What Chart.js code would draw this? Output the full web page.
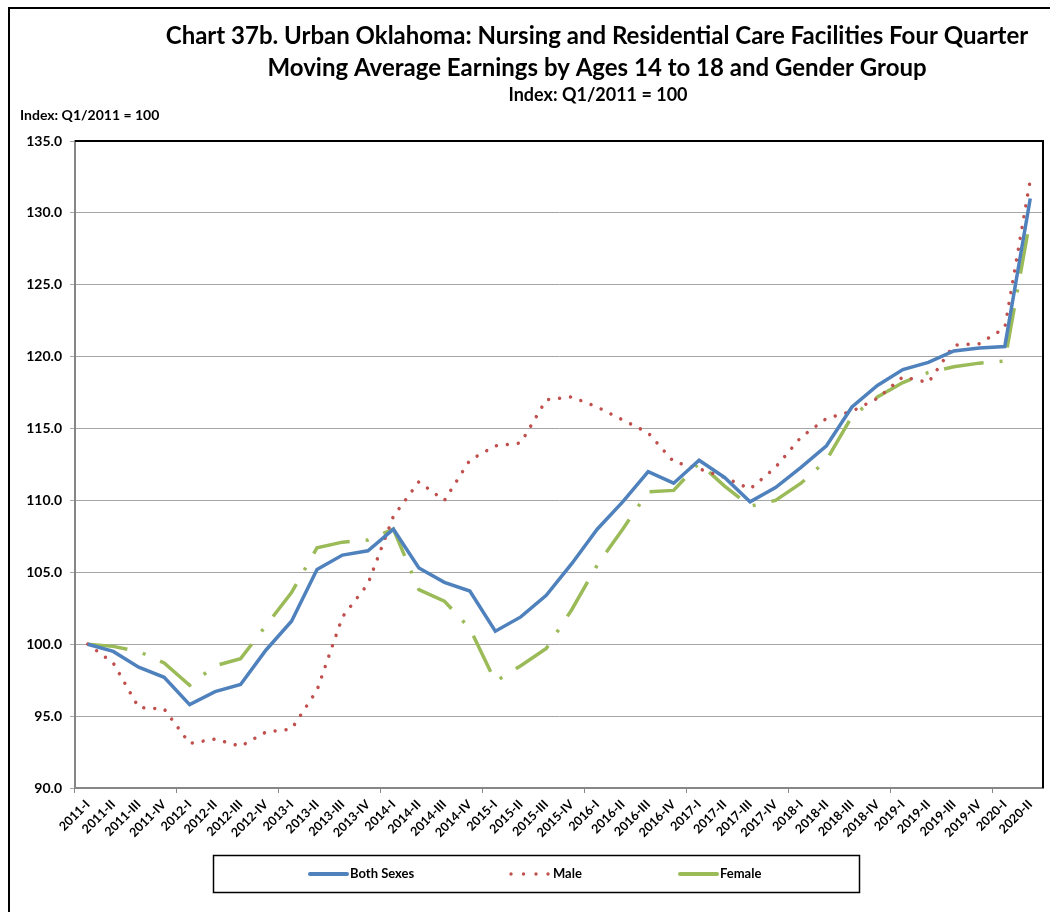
<!DOCTYPE html>
<html>
<head>
<meta charset="utf-8">
<script src="https://cdn.jsdelivr.net/npm/chart.js@4.4.1/dist/chart.umd.min.js"></script>
<style>
  html, body { margin: 0; padding: 0; background: #ffffff; }
  #wrap { width: 1050px; height: 912px; position: relative; }
</style>
</head>
<body>
<div id="wrap"><canvas id="c" width="1050" height="912"></canvas></div>
<script>
const categories = ["2011-I","2011-II","2011-III","2011-IV","2012-I","2012-II","2012-III","2012-IV",
  "2013-I","2013-II","2013-III","2013-IV","2014-I","2014-II","2014-III","2014-IV",
  "2015-I","2015-II","2015-III","2015-IV","2016-I","2016-II","2016-III","2016-IV",
  "2017-I","2017-II","2017-III","2017-IV","2018-I","2018-II","2018-III","2018-IV",
  "2019-I","2019-II","2019-III","2019-IV","2020-I","2020-II"];

const bothSexes = [100.0, 99.5, 98.4, 97.7, 95.8, 96.7, 97.2, 99.6, 101.6, 105.2,
  106.2, 106.5, 108.0, 105.3, 104.3, 103.7, 100.9, 101.9, 103.4, 105.6,
  108.0, 109.9, 112.0, 111.2, 112.8, 111.6, 109.9, 110.9, 112.3, 113.8,
  116.5, 118.0, 119.1, 119.6, 120.4, 120.6, 120.7, 131.0];

const male = [100.0, 98.7, 95.6, 95.5, 93.1, 93.4, 92.9, 93.9, 94.1, 96.8,
  101.9, 104.2, 108.9, 111.3, 110.0, 112.8, 113.8, 114.0, 117.0, 117.2,
  116.5, 115.6, 114.7, 112.7, 112.2, 111.6, 110.8, 112.3, 114.4, 115.7,
  116.2, 117.1, 118.6, 118.2, 120.8, 120.9, 122.0, 132.3];

const female = [100.0, 99.85, 99.5, 98.7, 97.15, 98.5, 99.0, 101.3, 103.6, 106.7,
  107.1, 107.25, 108.0, 103.8, 103.0, 101.1, 97.4, 98.5, 99.7, 102.4,
  105.5, 108.0, 110.6, 110.7, 112.6, 111.0, 109.6, 110.0, 111.2, 112.8,
  115.85, 117.2, 118.2, 118.9, 119.3, 119.55, 119.7, 129.6];

const seriesNames = ["Both Sexes", "Male", "Female"];
const titleLines = ["Chart 37b. Urban Oklahoma: Nursing and Residential Care Facilities Four Quarter",
  "Moving Average Earnings by Ages 14 to 18 and Gender Group"];
const subtitleText = "Index: Q1/2011 = 100";
const yAxisNote = "Index: Q1/2011 = 100";
const yMin = 90, yMax = 135, yStep = 5;

const FONT = "Lato, 'Open Sans', 'DejaVu Sans', sans-serif";
const BLUE = "#4F81BD", RED = "#C0504D", GREEN = "#9BBB59";

const decor = {
  id: "decor",
  beforeDraw(chart) {
    const ctx = chart.ctx;
    ctx.save();
    ctx.fillStyle = "#ffffff";
    ctx.fillRect(0, 0, chart.width, chart.height);
    ctx.restore();
  },
  afterDraw(chart) {
    const ctx = chart.ctx;
    const a = chart.chartArea;
    ctx.save();
    // outer frame
    ctx.strokeStyle = "#000000";
    ctx.lineWidth = 2;
    ctx.strokeRect(9, 8, 1200, 1000);
    // plot border top/right
    ctx.lineWidth = 2;
    ctx.beginPath();
    ctx.moveTo(a.left, a.top);
    ctx.lineTo(a.right, a.top);
    ctx.lineTo(a.right, a.bottom);
    ctx.stroke();
    // titles
    ctx.fillStyle = "#000000";
    ctx.textAlign = "center";
    ctx.textBaseline = "alphabetic";
    ctx.font = "bold 24px " + FONT;
    ctx.fillText(titleLines[0], 597, 44);
    ctx.fillText(titleLines[1], 597, 76);
    ctx.font = "bold 18px " + FONT;
    ctx.fillText(subtitleText, 598, 101);
    ctx.textAlign = "left";
    ctx.font = "bold 14px " + FONT;
    ctx.fillText(yAxisNote, 20, 120);
    // legend
    ctx.lineWidth = 1.5;
    ctx.strokeStyle = "#000000";
    ctx.strokeRect(213.5, 855.5, 646, 37);
    const ly = 874;
    ctx.font = "bold 13px " + FONT;
    ctx.textBaseline = "middle";
    // Both Sexes
    ctx.strokeStyle = BLUE; ctx.lineWidth = 4; ctx.lineCap = "round";
    ctx.beginPath(); ctx.moveTo(310, ly); ctx.lineTo(347, ly); ctx.stroke();
    ctx.fillStyle = "#000"; ctx.fillText(seriesNames[0], 350, ly);
    // Male
    ctx.fillStyle = RED;
    [511, 523.5, 536, 548].forEach(x => { ctx.beginPath(); ctx.arc(x, ly, 1.7, 0, Math.PI * 2); ctx.fill(); });
    ctx.fillStyle = "#000"; ctx.fillText(seriesNames[1], 553, ly);
    // Female
    ctx.strokeStyle = GREEN; ctx.lineWidth = 4;
    ctx.beginPath(); ctx.moveTo(680, ly); ctx.lineTo(717, ly); ctx.stroke();
    ctx.fillStyle = "#000"; ctx.fillText(seriesNames[2], 720, ly);
    ctx.restore();
  }
};

new Chart(document.getElementById("c"), {
  type: "line",
  data: {
    labels: categories,
    datasets: [
      { label: seriesNames[2], data: female, borderColor: GREEN, borderWidth: 3.5,
        borderDash: [40, 16, 3, 16], borderCapStyle: "butt", pointRadius: 0, tension: 0, order: 3 },
      { label: seriesNames[1], data: male, borderColor: RED, borderWidth: 3.5,
        borderDash: [0.001, 11], borderCapStyle: "round", pointRadius: 0, tension: 0, order: 2 },
      { label: seriesNames[0], data: bothSexes, borderColor: BLUE, borderWidth: 3.5,
        pointRadius: 0, tension: 0, order: 1 }
    ]
  },
  options: {
    responsive: false,
    animation: false,
    events: [],
    layout: { padding: { top: 141, right: 7, left: 0, bottom: 0 } },
    plugins: { legend: { display: false }, tooltip: { enabled: false }, title: { display: false } },
    scales: {
      y: {
        min: yMin, max: yMax,
        ticks: { stepSize: yStep, color: "#000", padding: 8,
          font: { family: FONT, size: 14, weight: "bold" },
          callback: v => Number(v).toFixed(1) },
        grid: { color: "#A6A6A6", lineWidth: 1, tickLength: 5 },
        border: { color: "#868686", width: 2 },
        afterFit(scale) { scale.width = 75; }
      },
      x: {
        offset: true,
        ticks: { color: "#000", autoSkip: false, maxRotation: 45, minRotation: 45, padding: 4,
          font: { family: FONT, size: 12.5, weight: "bold" } },
        grid: { offset: true, drawOnChartArea: false, tickLength: 5,
          color: c => (c.index % 4 === 0 ? "#868686" : "rgba(0,0,0,0)") },
        border: { color: "#868686", width: 2 },
        afterFit(scale) { scale.height = 124; }
      }
    }
  },
  plugins: [decor]
});
</script>
</body>
</html>
